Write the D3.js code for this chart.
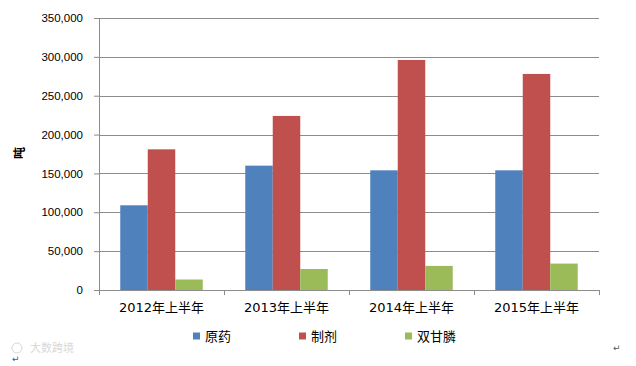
<!DOCTYPE html>
<html>
    <head>
        <meta charset="utf-8">
        <script src="https://d3js.org/d3.v7.min.js"></script>
        <style>
            body { margin: 0; background: #fff; }
            svg { display: block; font-family: "DejaVu Sans", "Noto Sans CJK SC", sans-serif; }
        </style>
    </head>
    <body>
        <script>
            // data (tons)
            const categories = ['2012年上半年', '2013年上半年', '2014年上半年', '2015年上半年']
            const seriesNames = ['原药', '制剂', '双甘膦']
            const yuanyao = [109000, 160000, 154000, 154000]
            const zhiji = [181000, 224000, 296000, 278000]
            const shuangganlin = [13500, 27000, 31000, 34000]
            const yTicks = [0, 50000, 100000, 150000, 200000, 250000, 300000, 350000]
            const colors = ['#4f81bd', '#c0504d', '#9bbb59']

            const seriesValues = [yuanyao, zhiji, shuangganlin]

            const svg = d3.select('body').append('svg')
                .attr('width', 636).attr('height', 366)

            const margin = { top: 18, left: 99, right: 37, bottom: 76 }
            const width = 636 - margin.left - margin.right
            const height = 366 - margin.top - margin.bottom

            const g = svg.append('g')
                .attr('transform', `translate(${margin.left}, ${margin.top})`)

            const x0 = d3.scaleBand().domain(categories).range([0, width]).paddingInner(0.34).paddingOuter(0.17)
            const x1 = d3.scaleBand().domain(seriesNames).range([0, x0.bandwidth()])
            const y = d3.scaleLinear().domain([0, 350000]).range([height, 0])

            // gridlines
            g.selectAll('.grid')
                .data(yTicks.slice(1)).enter()
                .append('line')
                    .attr('class', 'grid')
                    .attr('x1', 0).attr('x2', width)
                    .attr('y1', d => Math.round(y(d)) + 0.5).attr('y2', d => Math.round(y(d)) + 0.5)
                    .attr('stroke', '#8c8c8c').attr('stroke-width', 1)

            // bars
            const groups = g.selectAll('.cat')
                .data(categories).enter()
                .append('g')
                    .attr('transform', d => `translate(${x0(d)}, 0)`)

            groups.selectAll('rect')
                .data((c, i) => seriesNames.map((s, k) => ({ s, v: seriesValues[k][i], k })))
                .enter().append('rect')
                    .attr('x', d => x1(d.s))
                    .attr('width', x1.bandwidth())
                    .attr('y', d => y(d.v))
                    .attr('height', d => height - y(d.v))
                    .attr('fill', d => colors[d.k])

            // y axis
            const yAxis = d3.axisLeft(y).tickValues(yTicks).tickSize(5).tickPadding(11)
                .tickFormat(d3.format(','))
            const ya = g.append('g').call(yAxis)
            ya.select('.domain').attr('stroke', '#8c8c8c').attr('d', `M-5,0.5H0.5V${height + 0.5}`)
            ya.selectAll('.tick line').attr('stroke', '#8c8c8c')
            ya.selectAll('.tick text').attr('fill', '#000').style('font-size', '11.5px')

            // x axis
            const xb = d3.scaleLinear().domain([0, categories.length]).range([0, width])
            const xa = g.append('g').attr('transform', `translate(0, ${height})`)
            xa.append('line').attr('x1', 0).attr('x2', width + 0.5).attr('y1', 0.5).attr('y2', 0.5)
                .attr('stroke', '#8c8c8c')
            xa.selectAll('.xtick')
                .data(d3.range(categories.length + 1)).enter()
                .append('line')
                    .attr('x1', d => Math.round(xb(d)) + 0.5).attr('x2', d => Math.round(xb(d)) + 0.5)
                    .attr('y1', 0).attr('y2', 5)
                    .attr('stroke', '#8c8c8c')
            xa.selectAll('.xlabel')
                .data(categories).enter()
                .append('text')
                    .attr('x', d => x0(d) + x0.bandwidth() / 2)
                    .attr('y', 22)
                    .attr('text-anchor', 'middle')
                    .style('font-size', '13px')
                    .text(d => d)

            // y axis title
            svg.append('text')
                .attr('transform', 'translate(24, 153) rotate(-90)')
                .attr('text-anchor', 'middle')
                .style('font-size', '12px').style('font-weight', 'bold')
                .text('吨')

            // legend
            const legendX = [193, 299, 405]
            const legend = svg.selectAll('.legend')
                .data(seriesNames).enter()
                .append('g')
                    .attr('transform', (d, i) => `translate(${legendX[i]}, 336)`)
            legend.append('rect')
                .attr('x', 0).attr('y', -3.5).attr('width', 7).attr('height', 7)
                .attr('fill', (d, i) => colors[i])
            legend.append('text')
                .attr('x', 12).attr('y', 5)
                .style('font-size', '13px')
                .text(d => d)

            // watermark and paragraph marks from the source screenshot
            svg.append('text').attr('x', 30).attr('y', 352)
                .style('font-size', '11px').attr('fill', '#d8d8d8')
                .text('大数跨境')
            svg.append('circle').attr('cx', 17).attr('cy', 348).attr('r', 5)
                .attr('fill', 'none').attr('stroke', '#d8d8d8')
            svg.append('text').attr('x', 12).attr('y', 362)
                .style('font-size', '9px').attr('fill', '#555').text('↵')
            svg.append('text').attr('x', 613).attr('y', 351)
                .style('font-size', '9px').attr('fill', '#555').text('↵')
        </script>
    </body>
</html>
